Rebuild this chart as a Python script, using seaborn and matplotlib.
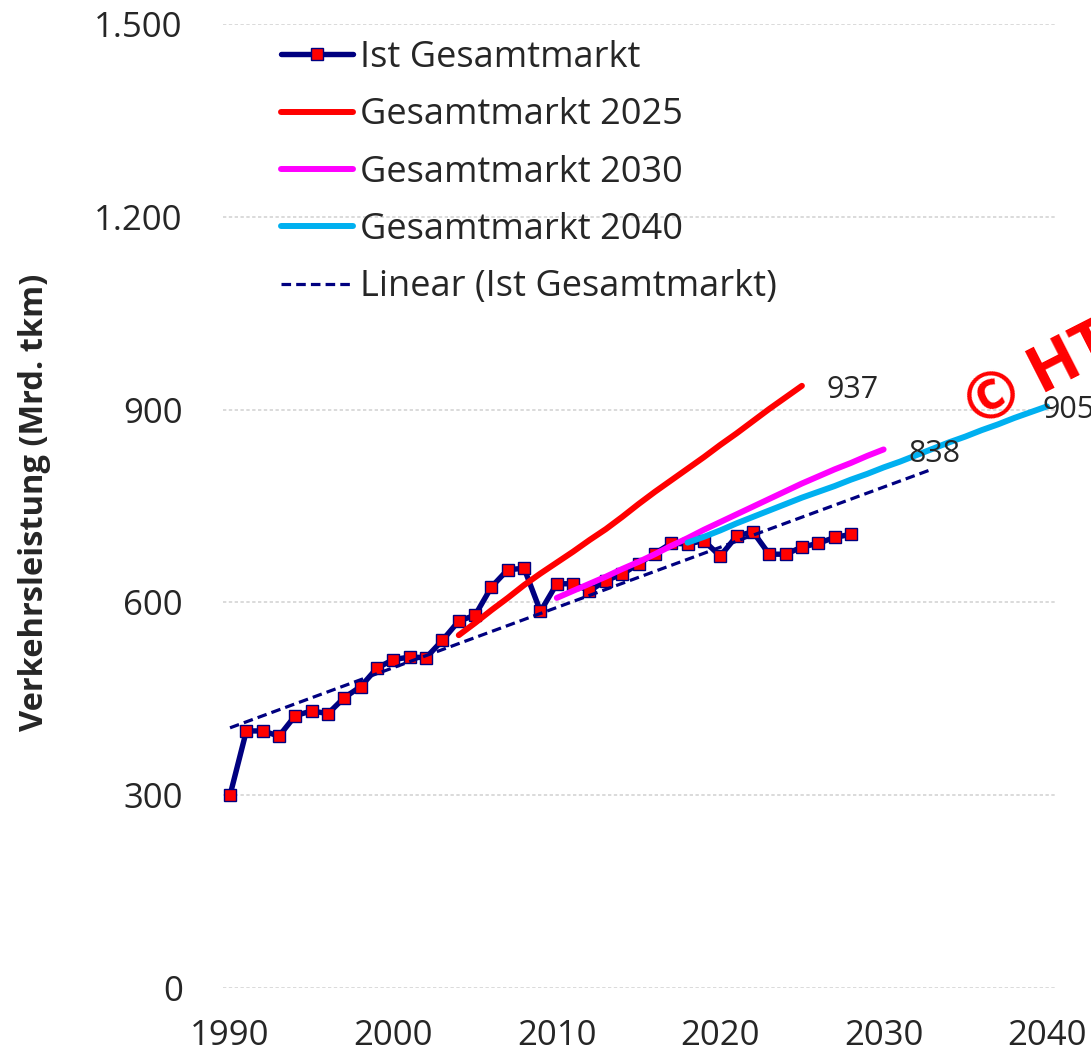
import numpy as np
import matplotlib
matplotlib.use("Agg")
import matplotlib.pyplot as plt
import seaborn as sns
from matplotlib.ticker import FuncFormatter

# Ist-Werte (Mrd. tkm), 1990-2028
ist_years = list(range(1990, 2029))
ist_values = [300, 400, 400, 392, 424, 431, 427, 452, 469, 498,
              511, 515, 514, 541, 571, 580, 624, 651, 653, 586,
              629, 629, 618, 634, 644, 660, 676, 692, 691, 696,
              672, 703, 710, 675, 675, 686, 692, 701, 706]

# Prognosen
years_2025 = list(range(2004, 2026))
values_2025 = [549, 568, 588, 607, 627, 645, 662, 679, 697, 714, 733,
               753, 772, 790, 808, 826, 845, 863, 882, 901, 919, 937]

years_2030 = list(range(2010, 2031))
values_2030 = [607, 618, 629, 640, 652, 663, 675, 688, 700, 713, 725,
               737, 749, 761, 773, 785, 796, 807, 817, 828, 838]

years_2040 = list(range(2018, 2041))
values_2040 = [693, 702, 712, 723, 733, 743, 753, 763, 772, 781, 791, 800,
               810, 819, 829, 839, 849, 858, 868, 877, 887, 896, 905]

y_ticks = [0, 300, 600, 900, 1200, 1500]
x_ticks = [1990, 2000, 2010, 2020, 2030, 2040]

NAVY = "#000080"
FONT = ["Open Sans", "DejaVu Sans"]

sns.set_style("white")
plt.rcParams["font.family"] = FONT

fig = plt.figure(figsize=(10.91, 10.51), dpi=100)
ax = fig.add_axes([223 / 1091, 1 - 988 / 1051, 832 / 1091, 964 / 1051])

sns.lineplot(x=ist_years, y=ist_values, ax=ax, color=NAVY, linewidth=3.9,
             marker="s", markersize=8.8, markerfacecolor="#ff0000",
             markeredgecolor=NAVY, markeredgewidth=1.0,
             label="Ist Gesamtmarkt", zorder=3)
sns.lineplot(x=years_2025, y=values_2025, ax=ax, color="#ff0000",
             linewidth=4.3, label="Gesamtmarkt 2025", zorder=4)
sns.lineplot(x=years_2030, y=values_2030, ax=ax, color="#ff00ff",
             linewidth=4.3, label="Gesamtmarkt 2030", zorder=5)
sns.lineplot(x=years_2040, y=values_2040, ax=ax, color="#00b0f0",
             linewidth=4.3, label="Gesamtmarkt 2040", zorder=6)

# linearer Trend wie in Excel, 5 Jahre vorwaerts
slope, icpt = np.polyfit(ist_years, ist_values, 1)
trend_x = np.array([ist_years[0], ist_years[-1] + 5])
ax.plot(trend_x, slope * trend_x + icpt, color=NAVY, linewidth=2.3,
        linestyle=(0, (3.0, 1.6)), label="Linear (Ist Gesamtmarkt)", zorder=7)

# Endwerte (Beschriftung oberhalb der Linienenden)
ax.text(2026.5, 918, "937", fontsize=22, va="baseline", ha="left", zorder=8)
ax.text(2031.5, 818, "838", fontsize=22, va="baseline", ha="left", zorder=8)
ax.text(2039.75, 887, "905", fontsize=22, va="baseline", ha="left",
        clip_on=False, zorder=8)

ax.set_xlim(1989.57, 2040.49)
ax.set_ylim(0, 1500)
ax.set_xticks(x_ticks)
ax.set_yticks(y_ticks)
ax.yaxis.set_major_formatter(FuncFormatter(lambda v, p: f"{v:,.0f}".replace(",", ".")))
ax.tick_params(axis="both", length=0, labelsize=25)
ax.tick_params(axis="y", pad=29)
ax.tick_params(axis="x", pad=22)
ax.grid(axis="y", color="#d4d4d4", linestyle=(0, (2, 1.5)), linewidth=1.2)
ax.grid(axis="x", visible=False)
for s in ax.spines.values():
    s.set_visible(False)
ax.set_xlabel("")
ax.set_ylabel("")

fig.text(35 / 1091, 1 - 502 / 1051, "Verkehrsleistung (Mrd. tkm)",
         rotation=90, ha="center", va="center", fontsize=23.5, fontweight="bold")

leg = ax.legend(loc="upper left", bbox_to_anchor=(281 / 1091, 1 - 40 / 1051),
                bbox_transform=fig.transFigure, frameon=False, fontsize=26,
                handlelength=2.0, handletextpad=0.2, labelspacing=0.59,
                borderpad=0, borderaxespad=0)

# Wasserzeichen
fig.text(970 / 1091, 1 - 412 / 1051, "© HT", color="#ff0000", fontsize=47,
         fontweight="bold", rotation=27, rotation_mode="anchor",
         ha="left", va="center")

fig.savefig("out.png", dpi=100)
